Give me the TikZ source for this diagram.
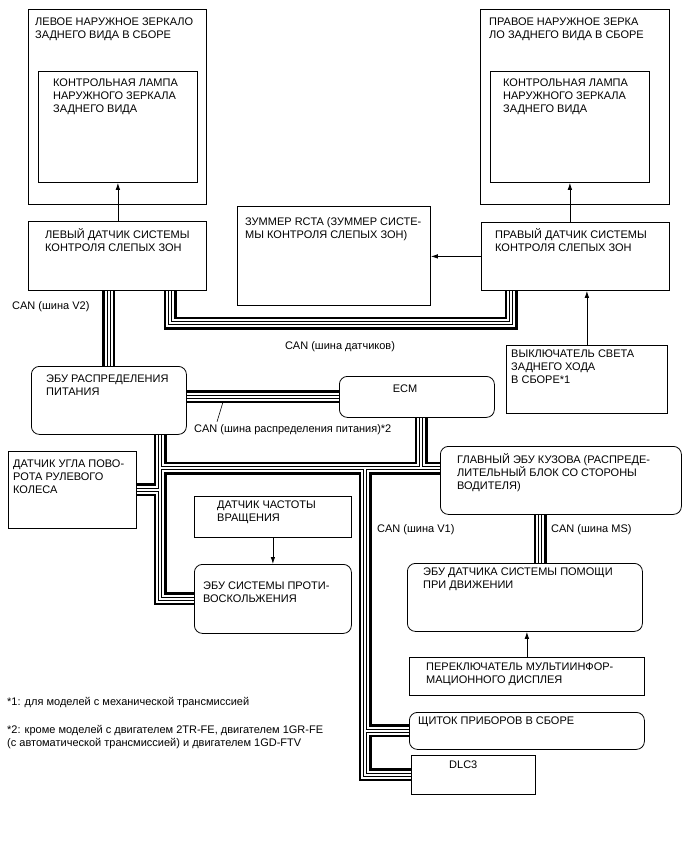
\documentclass[tikz,border=0pt]{standalone}
\usepackage{fontspec}
\setmainfont{Liberation Sans}
\usetikzlibrary{arrows.meta,positioning}

\begin{document}
\begin{tikzpicture}[x=1pt, y=-1pt,
  unit/.style={draw, line width=0.8pt, anchor=north west, inner sep=0pt},
  ecu/.style={unit, rounded corners=8pt},
  txt/.style={anchor=north west, inner sep=0pt, align=left,
    font=\fontsize{11}{13}\selectfont, execute at begin node=\rule{0pt}{10pt}},
  sig/.style={draw, line width=0.8pt, -{Latex[length=7pt,width=4.5pt]}},
  can/.style={draw, line width=2.2pt, double, double distance=8.6pt,
    postaction={draw, line width=1.2pt, double, double distance=1.6pt}}
]
  \useasboundingbox (0,0) rectangle (688,852);

  % mirrors and blind spot sensors
  \node[unit, minimum width=178, minimum height=195] (lmirror) at (28,9) {};
  \node[unit, minimum width=159, minimum height=111] (llamp) at (38,71) {};
  \node[unit, minimum width=178, minimum height=69] (lsens) at (28,221) {};
  \node[unit, minimum width=189, minimum height=195] (rmirror) at (480,9) {};
  \node[unit, minimum width=159, minimum height=111] (rlamp) at (490,71) {};
  \node[unit, minimum width=188, minimum height=68] (rsens) at (481,222) {};
  \node[unit, minimum width=193, minimum height=99] (buzzer) at (237,206) {};
  \node[unit, minimum width=161, minimum height=68] (revsw) at (506,345) {};

  \node[txt] (lmirrort) at (35,17.3) {ЛЕВОЕ НАРУЖНОЕ ЗЕРКАЛО\\ЗАДНЕГО ВИДА В СБОРЕ};
  \node[txt] (llampt) at (53,78.3) {КОНТРОЛЬНАЯ ЛАМПА\\НАРУЖНОГО ЗЕРКАЛА\\ЗАДНЕГО ВИДА};
  \node[txt] (lsenst) at (45,228.3) {ЛЕВЫЙ ДАТЧИК СИСТЕМЫ\\КОНТРОЛЯ СЛЕПЫХ ЗОН};
  \node[txt] (rmirrort) at (489,17.3) {ПРАВОЕ НАРУЖНОЕ ЗЕРКА\\ЛО ЗАДНЕГО ВИДА В СБОРЕ};
  \node[txt] (rlampt) at (503,78.3) {КОНТРОЛЬНАЯ ЛАМПА\\НАРУЖНОГО ЗЕРКАЛА\\ЗАДНЕГО ВИДА};
  \node[txt] (rsenst) at (495,228.8) {ПРАВЫЙ ДАТЧИК СИСТЕМЫ\\КОНТРОЛЯ СЛЕПЫХ ЗОН};
  \node[txt] (buzzert) at (245,217.8) {ЗУММЕР RCTA (ЗУММЕР СИСТЕ-\\МЫ КОНТРОЛЯ СЛЕПЫХ ЗОН)};
  \node[txt] (revswt) at (511,349.8) {ВЫКЛЮЧАТЕЛЬ СВЕТА\\ЗАДНЕГО ХОДА\\В СБОРЕ*1};

  % ECUs
  \node[ecu, minimum width=155, minimum height=68] (pdecu) at (31,366) {};
  \node[ecu, minimum width=155, minimum height=41] (ecm) at (339,376) {};
  \node[ecu, minimum width=241, minimum height=68] (body) at (440,446) {};
  \node[unit, minimum width=128, minimum height=77] (steer) at (8,451) {};
  \node[unit, minimum width=157, minimum height=41] (speed) at (194,496) {};
  \node[ecu, minimum width=157, minimum height=69] (abs) at (194,564) {};
  \node[ecu, minimum width=235, minimum height=68] (dsecu) at (407,563) {};
  \node[unit, minimum width=235, minimum height=38] (midsw) at (409,657) {};
  \node[ecu, minimum width=235, minimum height=37] (meter) at (409,712) {};
  \node[unit, minimum width=124, minimum height=39] (dlc) at (411,755) {};

  \node[txt] (pdecut) at (46,374.8) {ЭБУ РАСПРЕДЕЛЕНИЯ\\ПИТАНИЯ};
  \node[txt, anchor=north] (ecmt) at (405,382.3) {ECM};
  \node[txt] (bodyt) at (457,453.8) {ГЛАВНЫЙ ЭБУ КУЗОВА (РАСПРЕДЕ-\\ЛИТЕЛЬНЫЙ БЛОК СО СТОРОНЫ\\ВОДИТЕЛЯ)};
  \node[txt] (steert) at (13,459.8) {ДАТЧИК УГЛА ПОВО-\\РОТА РУЛЕВОГО\\КОЛЕСА};
  \node[txt] (speedt) at (217,500.8) {ДАТЧИК ЧАСТОТЫ\\ВРАЩЕНИЯ};
  \node[txt] (abst) at (203,581.8) {ЭБУ СИСТЕМЫ ПРОТИ-\\ВОСКОЛЬЖЕНИЯ};
  \node[txt] (dsecut) at (423,567.8) {ЭБУ ДАТЧИКА СИСТЕМЫ ПОМОЩИ\\ПРИ ДВИЖЕНИИ};
  \node[txt] (midswt) at (426,662.3) {ПЕРЕКЛЮЧАТЕЛЬ МУЛЬТИИНФОР-\\МАЦИОННОГО ДИСПЛЕЯ};
  \node[txt] (metert) at (418,714.3) {ЩИТОК ПРИБОРОВ В СБОРЕ};
  \node[txt] (dlct) at (449,758.3) {DLC3};

  % bus labels and notes
  \node[txt] (v2lbl) at (12,298.8) {CAN (шина V2)};
  \node[txt, anchor=north] (sblbl) at (340,338.8) {CAN (шина датчиков)};
  \node[txt] (pdlbl) at (194,421.8) {CAN (шина распределения питания)*2};
  \node[txt] (v1lbl) at (377,521.8) {CAN (шина V1)};
  \node[txt] (mslbl) at (551,521.8) {CAN (шина MS)};
  \node[txt] (note1) at (7,694.8) {*1: для моделей с механической трансмиссией};
  \node[txt] (note2) at (7,724.8) {*2: кроме моделей с двигателем 2TR-FE, двигателем 1GR-FE\\(с автоматической трансмиссией) и двигателем 1GD-FTV};

  % bends of the buses
  \coordinate (sbl) at (170,323);
  \coordinate (sbr) at (511,323);
  \coordinate (v1a) at (160,468);
  \coordinate (v1b) at (365,468);
  \coordinate (v1c) at (421,468);
  \coordinate (msx) at (540,0);
  \coordinate (pdtick) at (223,402);

  % CAN buses
  \draw[can] (lsens.south -| pdecu.north) -- (pdecu.north);
  \draw[can] (lsens.south -| sbl) |- (sbr) -- (rsens.south -| sbr);
  \draw[can] (pdecu.east |- ecm.west) -- (ecm.west);
  \draw[can] (pdecu.south -| v1a) -- (v1a) -- (body.west |- v1a)
    (ecm.south -| v1c) -- (v1c)
    (v1a) |- (abs.west)
    (steer.east) -- (steer.east -| v1a)
    (v1b) |- (dlc.west)
    (meter.west) -- (meter.west -| v1b);
  \draw[can] (body.south -| msx) -- (dsecu.north -| msx);
  \draw[line width=0.6pt] (pdtick) -- ([xshift=23pt]pdlbl.north west);

  % signals
  \draw[sig] (lsens.north -| llamp.south) -- (llamp.south);
  \draw[sig] (rsens.north -| rlamp.south) -- (rlamp.south);
  \draw[sig] (rsens.west) -- (buzzer.east |- rsens.west);
  \draw[sig] (revsw.north) -- (revsw.north |- rsens.south);
  \draw[sig] (speed.south) -- (speed.south |- abs.north);
  \draw[sig] (midsw.north) -- (midsw.north |- dsecu.south);
\end{tikzpicture}
\end{document}
